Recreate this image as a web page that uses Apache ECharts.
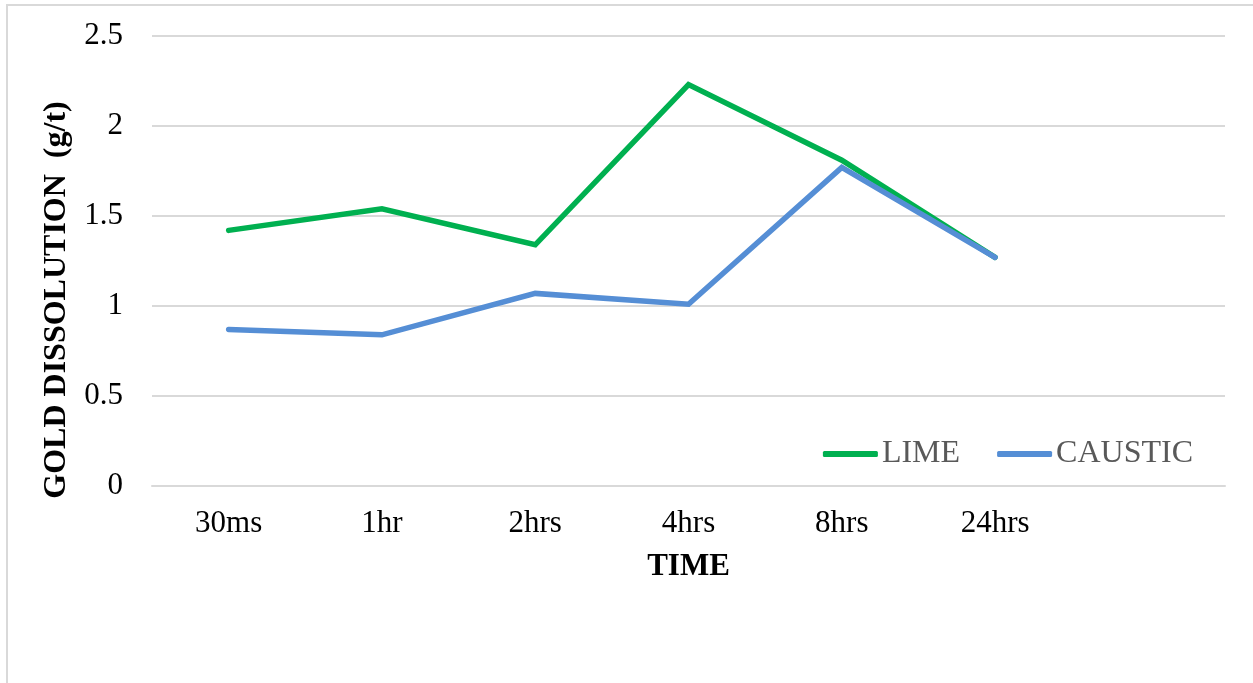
<!DOCTYPE html>
<html>
<head>
<meta charset="utf-8">
<style>
  html, body { margin: 0; padding: 0; background: #fff; }
  #chart { width: 1253px; height: 683px; }
</style>
<script src="https://cdn.jsdelivr.net/npm/echarts@6/dist/echarts.min.js"></script>
</head>
<body>
<div id="chart"></div>
<script>
// Sampling times (the last slot is left empty on the axis)
const categories = ['30ms', '1hr', '2hrs', '4hrs', '8hrs', '24hrs', ''];
// Gold dissolution, g/t
const limeValues = [1.42, 1.54, 1.34, 2.23, 1.81, 1.27];
const causticValues = [0.87, 0.84, 1.07, 1.01, 1.77, 1.27];

const FONT = '"Liberation Serif", "Times New Roman", serif';
const GRID_TOP = 36, GRID_BOTTOM = 197;

const chart = echarts.init(document.getElementById('chart'), null, { renderer: 'canvas' });

chart.setOption({
  backgroundColor: '#ffffff',
  animation: false,
  textStyle: { fontFamily: FONT },
  grid: { left: 152, right: 28, top: GRID_TOP, bottom: GRID_BOTTOM, containLabel: false },
  legend: {
    right: 55,
    top: 433,
    itemWidth: 55,
    itemHeight: 6,
    itemGap: 37,
    icon: 'roundRect',
    textStyle: { fontFamily: FONT, fontSize: 32, color: '#595959', padding: [0, 0, 0, -1] },
    data: ['LIME', 'CAUSTIC']
  },
  xAxis: {
    type: 'category',
    data: categories,
    boundaryGap: true,
    name: 'TIME',
    nameLocation: 'middle',
    nameGap: 65,
    nameTextStyle: { fontFamily: FONT, fontSize: 31, fontWeight: 'bold', color: '#000' },
    axisLine: { show: true, lineStyle: { color: '#D9D9D9', width: 2 } },
    axisTick: { show: false },
    axisLabel: { fontFamily: FONT, fontSize: 31, color: '#000', margin: 22 },
    splitLine: { show: false }
  },
  yAxis: {
    type: 'value',
    min: 0,
    max: 2.5,
    interval: 0.5,
    axisLine: { show: false },
    axisTick: { show: false },
    axisLabel: { fontFamily: FONT, fontSize: 31, color: '#000', margin: 29 },
    splitLine: { show: true, lineStyle: { color: '#D9D9D9', width: 2 } }
  },
  graphic: [
    {
      type: 'rect',
      silent: true,
      shape: { x: 7, y: 5, width: 1400, height: 900 },
      style: { fill: null, stroke: '#D9D9D9', lineWidth: 2 }
    },
    {
      type: 'text',
      silent: true,
      x: 57,
      y: 300,
      rotation: Math.PI / 2,
      style: {
        text: 'GOLD DISSOLUTION  (g/t)',
        font: 'bold 32px ' + FONT,
        fill: '#000',
        align: 'center',
        verticalAlign: 'middle'
      }
    }
  ],
  series: [
    {
      name: 'LIME',
      type: 'line',
      data: limeValues,
      showSymbol: false,
      symbol: 'none',
      color: '#00B050',
      lineStyle: { color: '#00B050', width: 5.5, cap: 'round', join: 'miter' },
      z: 2
    },
    {
      name: 'CAUSTIC',
      type: 'line',
      data: causticValues,
      showSymbol: false,
      symbol: 'none',
      color: '#558ED5',
      lineStyle: { color: '#558ED5', width: 5.5, cap: 'round', join: 'miter' },
      z: 3
    }
  ]
});
</script>
</body>
</html>
